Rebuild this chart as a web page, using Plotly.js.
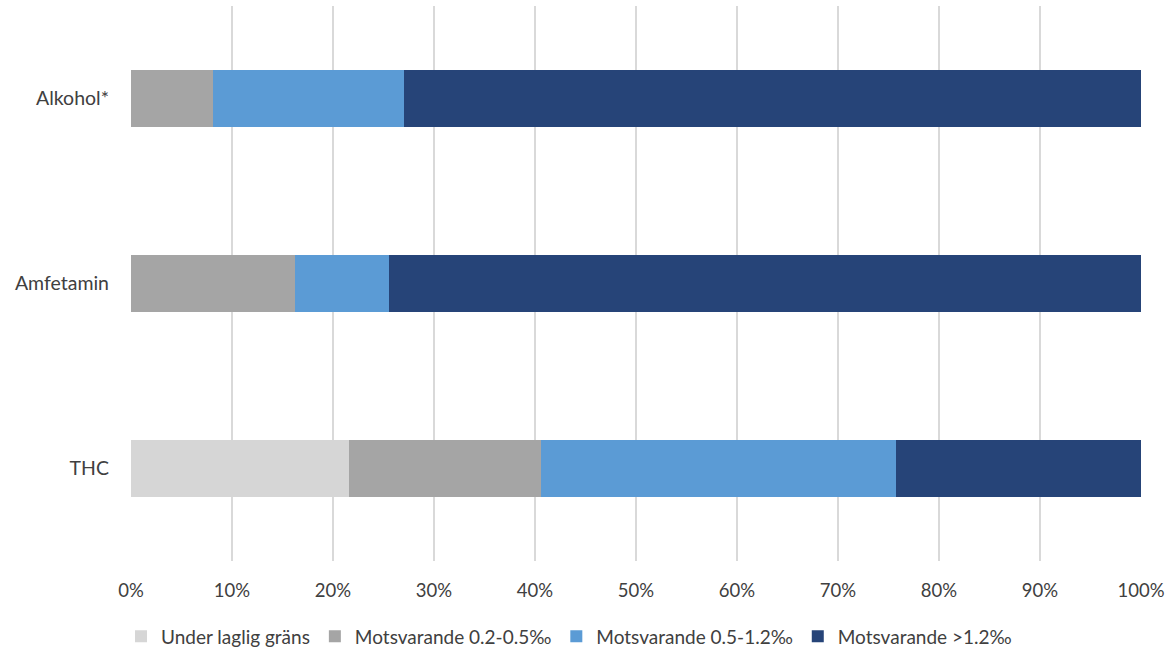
<!DOCTYPE html>
<html><head><meta charset="utf-8">
<script src="https://cdn.plot.ly/plotly-3.0.1.min.js"></script>
<style>html,body{margin:0;padding:0;background:#fff}#chart{width:1166px;height:648px}</style>
</head><body><div id="chart"></div>
<script>
var categories = ["THC", "Amfetamin", "Alkohol*"];
var seriesNames = ["Under laglig gräns", "Motsvarande 0.2-0.5‰", "Motsvarande 0.5-1.2‰", "Motsvarande >1.2‰"];
var underLaglig = [21.6, 0, 0];
var mots02_05 = [19.0, 16.2, 8.1];
var mots05_12 = [35.1, 9.3, 18.9];
var mots12 = [24.3, 74.5, 73.0];
var tickVals = [0, 10, 20, 30, 40, 50, 60, 70, 80, 90, 100];
var tickLabels = ["0%", "10%", "20%", "30%", "40%", "50%", "60%", "70%", "80%", "90%", "100%"];

var colors = ["#d6d6d6", "#a5a5a5", "#5b9bd5", "#264478"];
var values = [underLaglig, mots02_05, mots05_12, mots12];
var traces = values.map(function (v, i) {
  return {
    type: "bar", orientation: "h", name: seriesNames[i],
    x: v, y: categories, width: 0.31,
    marker: { color: colors[i], line: { width: 0 } },
    hoverinfo: "x+name"
  };
});
var layout = {
  barmode: "stack",
  width: 1166, height: 648,
  margin: { l: 131, r: 25, t: 6, b: 87, autoexpand: false },
  paper_bgcolor: "#fff", plot_bgcolor: "#fff",
  font: { family: "Lato, 'Open Sans', sans-serif", size: 19, color: "#404040" },
  xaxis: {
    range: [0, 100], tickvals: tickVals, ticktext: tickLabels,
    showgrid: true, gridcolor: "#d9d9d9", gridwidth: 1.5,
    zeroline: false, showline: false, ticks: "", fixedrange: true,
    ticklabelstandoff: 16,
    tickfont: { size: 18.5, color: "#404040" }
  },
  yaxis: {
    categoryorder: "array", categoryarray: categories,
    range: [-0.5, 2.5], showgrid: false, zeroline: false, ticks: "",
    ticklabelstandoff: 21,
    tickfont: { size: 19.5, color: "#404040" }
  },
  showlegend: true,
  legend: {
    orientation: "h", x: 0.488, xref: "container", xanchor: "center",
    y: 0.018, yref: "container", yanchor: "middle",
    traceorder: "normal", font: { size: 19, color: "#404040" },
    itemwidth: 30
  },
  bargap: 0.69
};
Plotly.newPlot("chart", traces, layout, { displayModeBar: false, staticPlot: true });
</script></body></html>
